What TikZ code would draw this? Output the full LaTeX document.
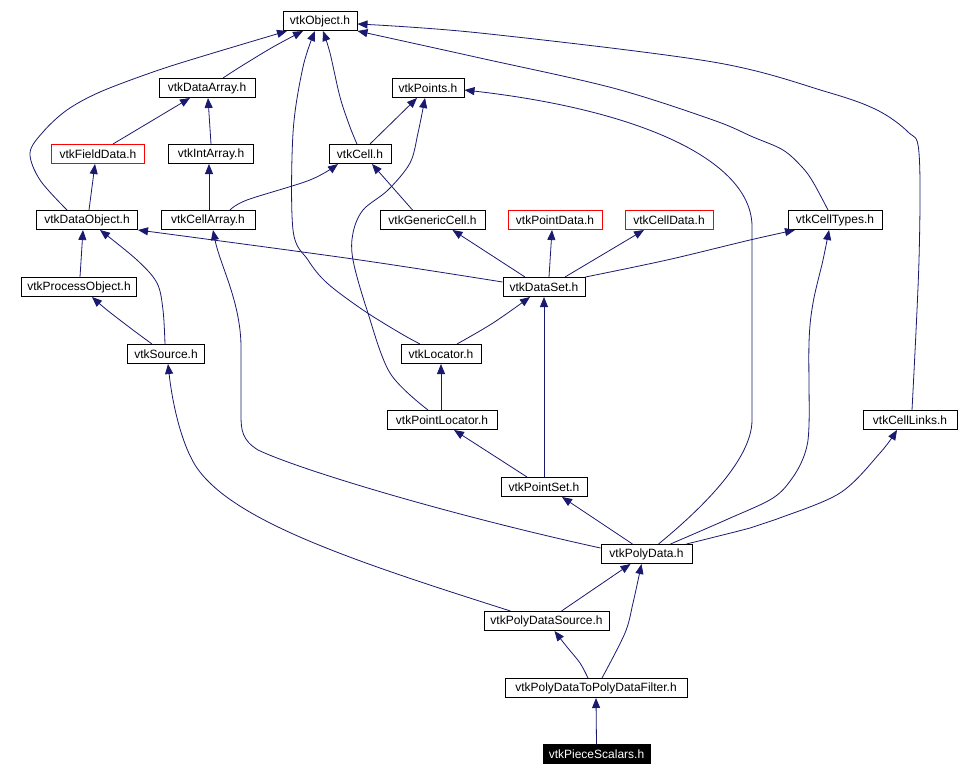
\documentclass[tikz,border=0pt]{standalone}
\usepackage{fontspec}
\setmainfont{Liberation Sans}
\usetikzlibrary{arrows.meta}
\definecolor{edgeblue}{RGB}{25,25,112}
\definecolor{boxred}{RGB}{255,0,0}
\begin{document}
\begin{tikzpicture}[x=1pt,y=-1pt,
  box/.style={draw=black,line width=1pt,fill=white,rectangle,minimum height=19pt,inner sep=0pt,font=\fontsize{12}{14}\selectfont},
  redbox/.style={box,draw=boxred},
  darkbox/.style={box,fill=black,text=white},
  edge/.style={draw=edgeblue,line width=0.8pt,-{Triangle[length=10pt,width=8pt]}},
  sm/.style={smooth,tension=0.55}]
\useasboundingbox (0,0) rectangle (958,776);
\fill[white] (0,0) rectangle (958,776);
% nodes
\node[box,minimum width=74] (obj) at (320,21) {vtkObject.h};
\node[box,minimum width=96] (darr) at (207,88) {vtkDataArray.h};
\node[box,minimum width=72] (pts) at (428,88) {vtkPoints.h};
\node[redbox,minimum width=93] (fld) at (98,154) {vtkFieldData.h};
\node[box,minimum width=85] (iarr) at (211,154) {vtkIntArray.h};
\node[box,minimum width=62] (cell) at (360,154) {vtkCell.h};
\node[box,minimum width=101] (dobj) at (87,220) {vtkDataObject.h};
\node[box,minimum width=94] (carr) at (208,220) {vtkCellArray.h};
\node[box,minimum width=105] (gcell) at (432.5,220) {vtkGenericCell.h};
\node[redbox,minimum width=94] (pdat) at (555,220) {vtkPointData.h};
\node[redbox,minimum width=88] (cdat) at (669,220) {vtkCellData.h};
\node[box,minimum width=94] (ctyp) at (835,220) {vtkCellTypes.h};
\node[box,minimum width=115] (pobj) at (79,287) {vtkProcessObject.h};
\node[box,minimum width=82] (dset) at (544,287) {vtkDataSet.h};
\node[box,minimum width=77] (src) at (166,354) {vtkSource.h};
\node[box,minimum width=80] (loc) at (441,354) {vtkLocator.h};
\node[box,minimum width=110] (ploc) at (442,420) {vtkPointLocator.h};
\node[box,minimum width=94] (clnk) at (910,420) {vtkCellLinks.h};
\node[box,minimum width=86] (pset) at (544,487) {vtkPointSet.h};
\node[box,minimum width=91] (pdata) at (646.5,554) {vtkPolyData.h};
\node[box,minimum width=125] (pdsrc) at (546.5,621) {vtkPolyDataSource.h};
\node[box,minimum width=182] (filt) at (596,688) {vtkPolyDataToPolyDataFilter.h};
\node[darkbox,minimum width=107] (piece) at (596.5,754) {vtkPieceScalars.h};
% edges
\draw[edge] plot[sm] coordinates {([xshift=16pt]darr.north) (240,67) (273,47) ([xshift=-17pt]obj.south)};
\draw[edge] plot[sm] coordinates {([xshift=-20pt]dobj.north) (40,180) (30,153) (43,132) (67,110) (100,92) (153,72) (200,57) ([xshift=-33pt]obj.south)};
\draw[edge] plot[sm] coordinates {([xshift=-3pt]cell.north) (350,127) (340,97) (330,53) ([xshift=3pt]obj.south)};
\draw[edge] plot[sm] coordinates {([xshift=-21pt]loc.north) (400,333) (363,310) (327,283) (308,260) (293,230) (293,133) (303,67) ([xshift=-5pt]obj.south)};
\draw[edge] plot[sm] coordinates {([xshift=-7pt]ctyp.north) (813,182) (802,167) (783,150) (753,137) (713,120) (613,88) (480,58) (obj.south east)};
\draw[edge] plot[sm] coordinates {([xshift=2pt]clnk.north) (919,260) (919,153) (908,132) (877,110) (827,92) (713,62) (480,33) ([yshift=-3pt]obj.east)};
\draw[edge] ([xshift=15pt]fld.north) -- ([xshift=-17pt]darr.south);
\draw[edge] (iarr.north) -- ([xshift=1pt]darr.south);
\draw[edge] ([xshift=2pt]dobj.north) -- ([xshift=-3pt]fld.south);
\draw[edge] ([xshift=1pt]carr.north) -- ([xshift=-2pt]iarr.south);
\draw[edge] plot[sm] coordinates {([xshift=22pt]carr.north) (247,200) (310,180) ([xshift=-22pt]cell.south)};
\draw[edge] ([xshift=-20pt]gcell.north) -- ([xshift=12pt]cell.south);
\draw[edge] ([xshift=10pt]cell.north) -- ([xshift=-11pt]pts.south);
\draw[edge] plot[sm] coordinates {([xshift=-14pt]ploc.north) (390,373) (367,310) (353,260) (353,233) (363,210) (388,190) (410,163) (418,133) ([xshift=-3pt]pts.south)};
\draw[edge] ([xshift=12pt]pdata.north) .. controls (700,510) and (752,460) .. (752,420) -- (752,225) .. controls (750,160) and (640,110) .. ([yshift=-2pt]pts.east);
\draw[edge] plot[sm] coordinates {([yshift=5pt]dset.west) (353,259) (dobj.south east)};
\draw[edge] ([xshift=1pt]pobj.north) -- ([xshift=-4pt]dobj.south);
\draw[edge] plot[sm] coordinates {([xshift=-1pt]src.north) (163,310) (157,283) (137,260) ([xshift=13pt]dobj.south)};
\draw[edge] plot[sm] coordinates {([xshift=-14pt]src.north) (133,330) (107,310) ([xshift=13pt]pobj.south)};
\draw[edge] ([yshift=6pt]pdata.west) .. controls (450,515) and (300,470) .. (258,450) .. controls (242,440) and (241,430) .. (241,415) -- (241,345) .. controls (240,300) and (220,265) .. ([xshift=5pt]carr.south);
\draw[edge] ([xshift=-19pt]dset.north) -- ([xshift=20pt]gcell.south);
\draw[edge] ([xshift=5pt]dset.north) -- ([xshift=-3pt]pdat.south);
\draw[edge] ([xshift=21pt]dset.north) -- ([xshift=-25pt]cdat.south);
\draw[edge] plot[sm] coordinates {(dset.north east) (667,260) (750,240) ([xshift=-40pt]ctyp.south)};
\draw[edge] plot[sm] coordinates {([xshift=16pt]loc.north) (493,323) ([xshift=-14pt]dset.south)};
\draw[edge] (pset.north) -- (dset.south);
\draw[edge] ([xshift=-1pt]ploc.north) -- (loc.south);
\draw[edge] ([xshift=-17pt]pset.north) -- ([xshift=12pt]ploc.south);
\draw[edge] ([xshift=-14pt]pdata.north) -- ([xshift=18pt]pset.south);
\draw[edge] plot[sm] coordinates {([xshift=24pt]pdata.north) (728,519) (773,498) (793,477) (805,453) (809,425) (809,343) (813,303) (823,260) ([xshift=-6pt]ctyp.south)};
\draw[edge] plot[sm] coordinates {([xshift=40pt]pdata.north) (750,528) (777,519) (840,493) (880,453) ([xshift=-13pt]clnk.south)};
\draw[edge] ([xshift=-36pt]pdsrc.north) .. controls (350,560) and (230,520) .. (195,465) .. controls (180,440) and (172,400) .. ([xshift=2pt]src.south);
\draw[edge] ([xshift=15pt]pdsrc.north) -- ([xshift=-16pt]pdata.south);
\draw[edge] plot[sm] coordinates {([xshift=-8pt]filt.north) (580,663) (567,647) ([xshift=8pt]pdsrc.south)};
\draw[edge] plot[sm] coordinates {([xshift=6pt]filt.north) (625,633) (633,603) ([xshift=-5pt]pdata.south)};
\draw[edge] (piece.north) -- (filt.south);
\end{tikzpicture}
\end{document}
